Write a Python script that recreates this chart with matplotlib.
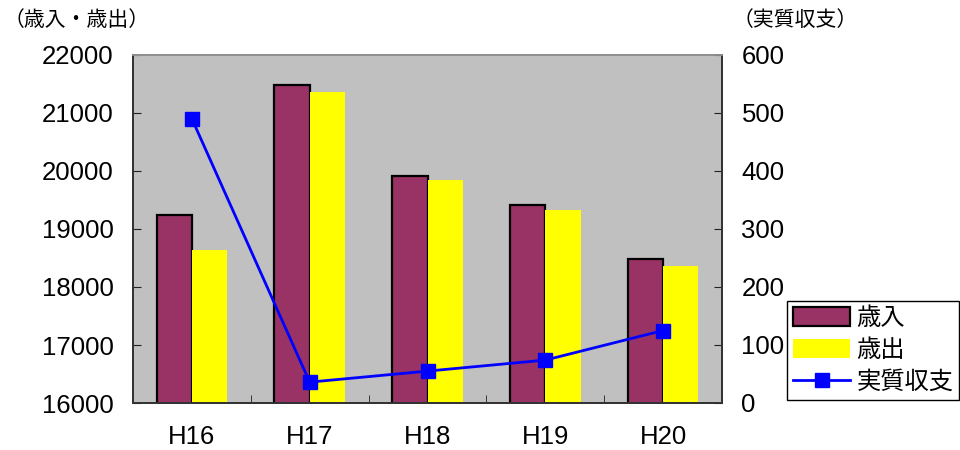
import matplotlib
matplotlib.use("Agg")
from matplotlib import pyplot as plt
import numpy as np

plt.rcParams['font.family'] = ['Liberation Sans', 'Noto Sans CJK JP']

years = ['H16', 'H17', 'H18', 'H19', 'H20']
revenue = [19250, 21490, 19920, 19420, 18480]      # 歳入
expenditure = [18630, 21370, 19840, 19320, 18360]  # 歳出
balance = [490, 36, 55, 74, 125]                   # 実質収支

left_ticks = [16000, 17000, 18000, 19000, 20000, 21000, 22000]
right_ticks = [0, 100, 200, 300, 400, 500, 600]

fig = plt.figure(figsize=(9.6, 4.5), dpi=100)
ax = fig.add_axes([133 / 960, 1 - 403 / 450, (722 - 133) / 960, (403 - 55) / 450])
ax.set_facecolor('#c0c0c0')

x = np.arange(len(years))
w = 0.3
b1 = ax.bar(x - w / 2, revenue, w, color='#993366', edgecolor='black', linewidth=1.6,
            label='歳入', zorder=2)
b2 = ax.bar(x + w / 2, expenditure, w, color='#ffff00', linewidth=0,
            label='歳出', zorder=2)

ax.set_xlim(-0.5, len(years) - 0.5)
ax.set_ylim(16000, 22000)
ax.set_yticks(left_ticks)
ax.set_xticks(x)
ax.set_xticklabels(years)
ax.set_xticks(np.arange(len(years) + 1) - 0.5, minor=True)
ax.tick_params(axis='x', which='major', length=0, labelsize=18.5, pad=16)
ax.tick_params(axis='x', which='minor', direction='in', length=6, color='#222222')
ax.tick_params(axis='y', direction='in', length=6, labelsize=18.5, pad=14, color='#222222')

ax2 = ax.twinx()
line, = ax2.plot(x, balance, color='#0000ff', linewidth=2, marker='s', markersize=10,
                 label='実質収支', zorder=3)
ax2.set_ylim(0, 600)
ax2.set_yticks(right_ticks)
ax2.tick_params(axis='y', direction='in', length=6, labelsize=18.5, pad=14, color='#222222')

for a in (ax, ax2):
    a.spines['top'].set_color('#909090')
    a.spines['left'].set_color('#333333')
    a.spines['right'].set_color('#333333')
    a.spines['bottom'].set_color('#333333')
    for s in a.spines.values():
        s.set_linewidth(1.3)

fig.text(0.004, 1 - 20 / 450, '（歳入・歳出）', fontsize=15, va='center', ha='left')
fig.text(733 / 960, 1 - 20 / 450, '（実質収支）', fontsize=15, va='center', ha='left')

leg = fig.legend([b1, b2, line], ['歳入', '歳出', '実質収支'],
                 loc='upper left', bbox_to_anchor=(787 / 960, 1 - 301 / 450),
                 fontsize=17.5, frameon=True, fancybox=False, borderpad=0.25,
                 handlelength=2.35, handleheight=0.8, handletextpad=0.25,
                 labelspacing=0.38, borderaxespad=0)
leg.get_frame().set_edgecolor('black')
leg.get_frame().set_linewidth(1.0)
leg.get_frame().set_facecolor('white')
leg.get_frame().set_alpha(1)

plt.savefig("out.png", dpi=100)
